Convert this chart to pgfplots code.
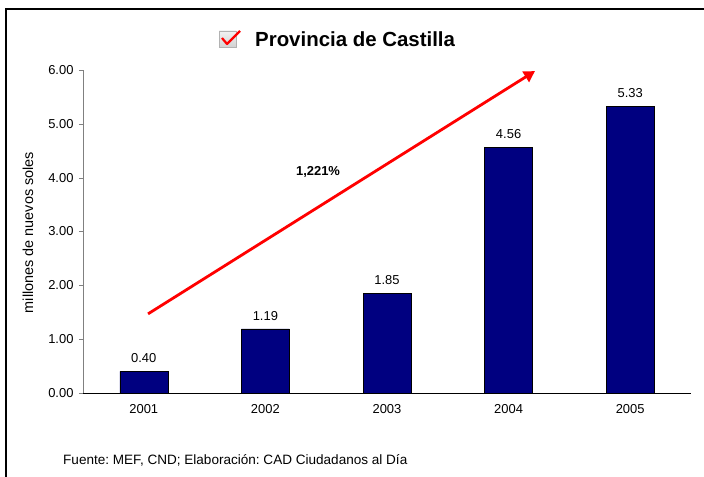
\documentclass[border=0pt]{standalone}
\usepackage{pgfplots}
\pgfplotsset{compat=1.18}
\usepackage{fontspec}
\setmainfont{Liberation Sans}
\usetikzlibrary{arrows.meta}
\definecolor{barblue}{RGB}{0,0,128}
\frenchspacing
\begin{document}
\begin{tikzpicture}
\path[use as bounding box] (0,0) rectangle (704bp,477bp);
\draw[line width=1.3bp] (6bp,0) -- (6bp,468bp) -- (704bp,468bp);
% title
\shade[top color=gray!10, bottom color=gray!35, draw=gray!60, line width=0.8bp] (219bp,430bp) rectangle (236bp,446bp);
\draw[red, line width=2.2bp, line join=round] (222bp,439bp) -- (227bp,433bp) -- (240bp,446bp);
\node[font=\bfseries\fontsize{20.5}{24}\selectfont, anchor=base west, inner sep=0] at (255bp,430bp) {Provincia de Castilla};
% footer
\node[font=\fontsize{13.6}{16}\selectfont, anchor=base west, inner sep=0] at (63bp,13bp) {Fuente: MEF, CND; Elaboración: CAD Ciudadanos al Día};
\begin{axis}[
  at={(83bp,84bp)}, anchor=south west,
  scale only axis, width=608bp, height=323bp,
  xmin=-0.5, xmax=4.5, ymin=0, ymax=6,
  axis x line=bottom, axis y line=left,
  x axis line style={-, black},
  y axis line style={-, gray},
  ytick={0,1,2,3,4,5,6},
  yticklabel={\pgfmathprintnumber[fixed,fixed zerofill,precision=2]{\tick}},
  /pgf/number format/assume math mode=true,
  xtick={0,1,2,3,4},
  xticklabels={2001,2002,2003,2004,2005},
  xtick style={draw=none},
  minor xtick={0.5,1.5,2.5,3.5,4.5},
  minor x tick style={black},
  minor tick length=5bp,
  major tick length=4bp,
  ytick style={gray},
  tick align=outside,
  tick label style={font=\fontsize{13}{15}\selectfont},
  xticklabel style={yshift=-4bp},
  yticklabel style={xshift=-2bp},
  ylabel={millones de nuevos soles},
  ylabel style={at={(axis description cs:-0.0905,0.497)}, anchor=center, font=\fontsize{14.5}{16}\selectfont},
  clip=false,
]
\addplot[ybar, bar width=48bp, fill=barblue, draw=black, line width=0.6bp,
  nodes near coords,
  nodes near coords style={font=\fontsize{13}{15}\selectfont, text=black, yshift=5bp, /pgf/number format/.cd, fixed, fixed zerofill, precision=2, assume math mode=true},
] coordinates {(0,0.40) (1,1.19) (2,1.85) (3,4.56) (4,5.33)};
\addplot[sharp plot, red, line width=2.8bp, -{Triangle[length=11bp,width=12bp]}] coordinates {(0.035,1.47) (3.217,5.98)};
\node[font=\bfseries\fontsize{13}{15}\selectfont] at (axis cs:1.433,4.105) {1,221\%};
\end{axis}
\end{tikzpicture}
\end{document}
